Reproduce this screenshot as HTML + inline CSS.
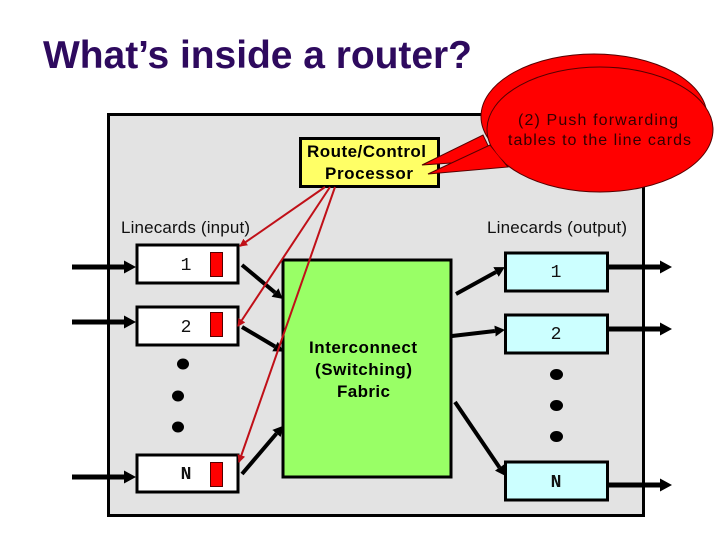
<!DOCTYPE html>
<html><head><meta charset="utf-8"><style>
html,body{margin:0;padding:0;background:#fff}
svg{display:block}
text{font-family:"Liberation Sans",sans-serif}
.m{font-family:"Liberation Mono",monospace;font-size:18px;fill:#111}
</style></head><body>
<svg width="720" height="540" viewBox="0 0 720 540" xmlns="http://www.w3.org/2000/svg">
<defs>
<marker id="a" markerUnits="userSpaceOnUse" markerWidth="13" markerHeight="14" refX="0" refY="6.500" orient="auto"><path d="M0 0L12 6.500L0 13Z" fill="#000"/></marker>
<marker id="b" markerUnits="userSpaceOnUse" markerWidth="11" markerHeight="11" refX="0" refY="5.500" orient="auto"><path d="M0 0L10 5.500L0 11Z" fill="#000"/></marker>
<marker id="r" markerUnits="userSpaceOnUse" markerWidth="9" markerHeight="8" refX="7" refY="4" orient="auto"><path d="M0 0L8 4L0 8Z" fill="#c01018"/></marker>
</defs>
<text x="43" y="68" font-size="39" font-weight="bold" fill="#2e0a5e" textLength="429" lengthAdjust="spacing">What’s inside a router?</text>
<rect x="108.500" y="114.500" width="535" height="401" fill="#e3e3e3" stroke="#000" stroke-width="3"/>
<!-- Control -->
<rect x="300.500" y="138.500" width="138" height="48" fill="#ffff66" stroke="#000" stroke-width="3"/>
<text x="307" y="157" font-size="17" font-weight="bold" fill="#000" textLength="119" lengthAdjust="spacing">Route/Control</text>
<text x="325" y="179" font-size="17" font-weight="bold" fill="#000" textLength="88" lengthAdjust="spacing">Processor</text>
<!-- Bubbles -->
<ellipse cx="594" cy="116.500" rx="113" ry="62.500" fill="#ff0000" stroke="#500" stroke-width="1"/>
<path d="M422 165L483 135L495 160Z" fill="#ff0000" stroke="#500" stroke-width="1"/>
<ellipse cx="594" cy="116.500" rx="112" ry="61.500" fill="#ff0000"/>
<ellipse cx="600" cy="129.500" rx="113" ry="62.500" fill="#ff0000" stroke="#500" stroke-width="1"/>
<path d="M428 174L490 145L508 167Z" fill="#ff0000" stroke="#500" stroke-width="1"/>
<ellipse cx="600" cy="129.500" rx="112" ry="61.500" fill="#ff0000"/>
<text x="518" y="125" font-size="16" fill="#300" textLength="160" lengthAdjust="spacing">(2) Push forwarding</text>
<text x="508" y="145" font-size="16" fill="#300" textLength="183" lengthAdjust="spacing">tables to the line cards</text>
<text x="121" y="233" font-size="17" fill="#111" textLength="129" lengthAdjust="spacing">Linecards (input)</text>
<text x="487" y="233" font-size="17" fill="#111" textLength="140" lengthAdjust="spacing">Linecards (output)</text>
<!-- Fabric -->
<rect x="283" y="260" width="168" height="217" fill="#99ff66" stroke="#000" stroke-width="3"/>
<text x="309" y="353" font-size="17" font-weight="bold" fill="#000" textLength="108" lengthAdjust="spacing">Interconnect</text>
<text x="315" y="375" font-size="17" font-weight="bold" fill="#000" textLength="97" lengthAdjust="spacing">(Switching)</text>
<text x="337" y="397" font-size="17" font-weight="bold" fill="#000" textLength="53" lengthAdjust="spacing">Fabric</text>
<!-- Input cards -->
<g fill="#fff" stroke="#000" stroke-width="3">
<rect x="137" y="245" width="101" height="38"/>
<rect x="137" y="307" width="101" height="38"/>
<rect x="137" y="455" width="101" height="37"/>
</g>
<g fill="#ff0000" stroke="#500" stroke-width="1">
<rect x="210.500" y="252.500" width="12" height="24"/>
<rect x="210.500" y="312.500" width="12" height="24"/>
<rect x="210.500" y="462.500" width="12" height="24"/>
</g>
<text x="186" y="270" class="m" text-anchor="middle">1</text>
<text x="186" y="332" class="m" text-anchor="middle">2</text>
<text x="186" y="479" class="m" font-weight="bold" text-anchor="middle">N</text>
<!-- Output cards -->
<g fill="#ccffff" stroke="#000" stroke-width="3">
<rect x="505.500" y="253" width="102" height="38"/>
<rect x="505.500" y="315" width="102" height="38"/>
<rect x="505.500" y="462" width="102" height="38"/>
</g>
<text x="556" y="277" class="m" text-anchor="middle">1</text>
<text x="556" y="339" class="m" text-anchor="middle">2</text>
<text x="556" y="487" class="m" font-weight="bold" text-anchor="middle">N</text>
<!-- Black arrows -->
<g stroke="#000" stroke-width="5" fill="none">
<line x1="72" y1="267" x2="124" y2="267" marker-end="url(#a)"/>
<line x1="72" y1="322" x2="124" y2="322" marker-end="url(#a)"/>
<line x1="72" y1="477" x2="124" y2="477" marker-end="url(#a)"/>
<line x1="608" y1="267" x2="660" y2="267" marker-end="url(#a)"/>
<line x1="608" y1="329" x2="660" y2="329" marker-end="url(#a)"/>
<line x1="608" y1="485" x2="660" y2="485" marker-end="url(#a)"/>
</g>
<g stroke="#000" stroke-width="4" fill="none">
<line x1="242" y1="265" x2="275" y2="292.500" marker-end="url(#b)"/>
<line x1="242" y1="327" x2="275" y2="346.500" marker-end="url(#b)"/>
<line x1="242" y1="474" x2="276.500" y2="433.500" marker-end="url(#b)"/>
<line x1="456" y1="294" x2="496" y2="272" marker-end="url(#b)"/>
<line x1="452" y1="336" x2="495" y2="331" marker-end="url(#b)"/>
<line x1="455" y1="402" x2="499.500" y2="467.500" marker-end="url(#b)"/>
</g>
<!-- Red lines -->
<g stroke="#c01018" stroke-width="2" fill="none">
<line x1="325" y1="187" x2="240" y2="246" marker-end="url(#r)"/>
<line x1="330" y1="187" x2="238" y2="326" marker-end="url(#r)"/>
<line x1="335" y1="187" x2="239" y2="462" marker-end="url(#r)"/>
</g>
<!-- Dots -->
<g fill="#000">
<ellipse cx="183" cy="364" rx="6" ry="5.500"/>
<ellipse cx="178" cy="396" rx="6" ry="5.500"/>
<ellipse cx="178" cy="427" rx="6" ry="5.500"/>
<ellipse cx="556.500" cy="374.500" rx="6.500" ry="5.500"/>
<ellipse cx="556.500" cy="405.500" rx="6.500" ry="5.500"/>
<ellipse cx="556.500" cy="436.500" rx="6.500" ry="5.500"/>
</g>
</svg>
</body></html>
